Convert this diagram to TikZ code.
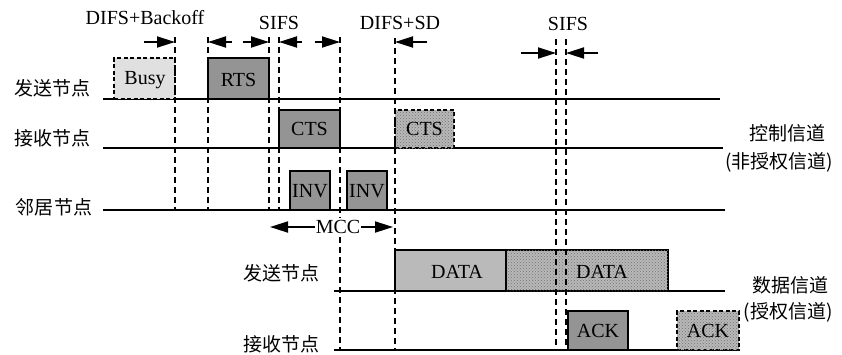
\documentclass[tikz,border=0pt]{standalone}
\usepackage{fontspec}
\setmainfont{Liberation Serif}
\newfontfamily\cjk{Noto Sans CJK SC}
\usetikzlibrary{arrows.meta,patterns}
\tikzset{
  tl/.style={line width=1.5pt},
  vdash/.style={line width=1.4pt, dash pattern=on 6pt off 4pt},
  box/.style={draw, line width=1.4pt, inner sep=0pt, outer sep=0pt, anchor=south west},
  dbox/.style={box, dash pattern=on 4pt off 2.5pt},
  busyfill/.style={fill=black!12},
  darkfill/.style={fill=black!42},
  datafill/.style={fill=black!27},
  stipple/.style={fill=black!28, postaction={pattern=crosshatch dots, pattern color=black!55}},
  arr/.style={line width=1.8pt, -{Triangle[length=18pt,width=11pt]}},
  lbl/.style={inner sep=0pt},
  cn/.style={inner sep=0pt, font=\fontsize{19}{22}\selectfont\cjk},
}
\begin{document}
\begin{tikzpicture}[x=1pt,y=-1pt,font=\fontsize{20}{23}\selectfont]
\useasboundingbox (0,0) rectangle (842,354);

% timelines
\coordinate (l1a) at (103,99);  \coordinate (l1b) at (720,99);
\coordinate (l2a) at (103,148); \coordinate (l2b) at (723,148);
\coordinate (l3a) at (103,210); \coordinate (l3b) at (725,210);
\coordinate (l4a) at (334,291); \coordinate (l4b) at (725,291);
\coordinate (l5a) at (334,350); \coordinate (l5b) at (740,350);
\draw[tl] (l1a) -- (l1b);
\draw[tl] (l2a) -- (l2b);
\draw[tl] (l3a) -- (l3b);
\draw[tl] (l4a) -- (l4b);
\draw[tl] (l5a) -- (l5b);

% boxes
\node[dbox, busyfill, minimum width=61pt, minimum height=41pt] (busy) at (114,99) {};
\node[lbl] (busyt) at (145,80) {Busy};
\node[box, darkfill, minimum width=61pt, minimum height=41pt] (rts) at (208,99) {};
\node[lbl] (rtst) at (238.5,80) {RTS};
\node[box, darkfill, minimum width=61pt, minimum height=38pt] (cts) at (279,148) {};
\node[lbl] (ctst) at (309.5,129) {CTS};
\node[dbox, stipple, minimum width=59pt, minimum height=38pt] (cts2) at (395,148) {};
\node[lbl] (cts2t) at (424.5,129) {CTS};
\node[box, darkfill, minimum width=40pt, minimum height=39pt] (inv1) at (290,210) {};
\node[lbl] (inv1t) at (310,191) {INV};
\node[box, darkfill, minimum width=40pt, minimum height=39pt] (inv2) at (347,210) {};
\node[lbl] (inv2t) at (367,191) {INV};
\node[box, datafill, minimum width=111pt, minimum height=41pt] (data1) at (395,291) {};
\node[lbl] (data1t) at (457,272) {DATA};
\node[box, stipple, minimum width=162pt, minimum height=41pt] (data2) at (506,291) {};
\node[lbl] (data2t) at (602,272) {DATA};
\node[box, darkfill, minimum width=60pt, minimum height=39pt] (ack) at (568,350) {};
\node[lbl] (ackt) at (598,331) {ACK};
\node[dbox, stipple, minimum width=62pt, minimum height=39pt] (ack2) at (677,350) {};
\node[lbl] (ack2t) at (708,331) {ACK};

% vertical dashed lines
\foreach \n/\x/\ya/\yb in {a/175/37/210, b/208/37/210, c/269/37/210, d/279/37/210,
                           e/340/37/350, f/395/38/350, g/556/39/350, h/566/39/350}{
  \coordinate (v\n t) at (\x,\ya);
  \coordinate (v\n b) at (\x,\yb);
  \draw[vdash] (v\n t) -- (v\n b);
}

% interval arrows
\coordinate (a1) at (144,42);
\draw[arr] (a1) -- (vat |- a1);
\coordinate (a2) at (232,42);
\draw[arr] (a2) -- (vbt |- a2);
\coordinate (a3) at (243,42);
\draw[arr] (a3) -- (vct |- a3);
\coordinate (a4) at (302,42);
\draw[arr] (a4) -- (vdt |- a4);
\coordinate (a5) at (315,42);
\draw[arr] (a5) -- (vet |- a5);
\coordinate (a6) at (427,42);
\draw[arr] (a6) -- (vft |- a6);
\coordinate (a7) at (521,53);
\draw[arr] (a7) -- (vgt |- a7);
\coordinate (a8) at (598,53);
\draw[arr] (a8) -- (vht |- a8);

% MCC
\node[lbl, fill=white, inner xsep=1pt, inner ysep=2pt] (mcc) at (338,227) {MCC};
\coordinate (mccl) at (270,227);
\coordinate (mccr) at (393,227);
\draw[arr] (mcc.west) -- (mccl);
\draw[arr] (mcc.east) -- (mccr);

% interval labels
\node[lbl] (t1) at (145,18) {DIFS+Backoff};
\node[lbl] (t2) at (279,23) {SIFS};
\node[lbl] (t3) at (400,23) {DIFS+SD};
\node[lbl] (t4) at (568,24) {SIFS};

% row labels
\node[cn] (n1) at (52,88) {发送节点};
\node[cn] (n2) at (52,138) {接收节点};
\node[cn] (n3) at (54,207) {邻居节点};
\node[cn] (n4) at (281,273) {发送节点};
\node[cn] (n5) at (281,344) {接收节点};
\node[cn] (c1) at (787,133) {控制信道};
\node[cn] (c2) at (779,162) {(非授权信道)};
\node[cn] (c3) at (790,285) {数据信道};
\node[cn] (c4) at (788,312) {(授权信道)};
\end{tikzpicture}
\end{document}
